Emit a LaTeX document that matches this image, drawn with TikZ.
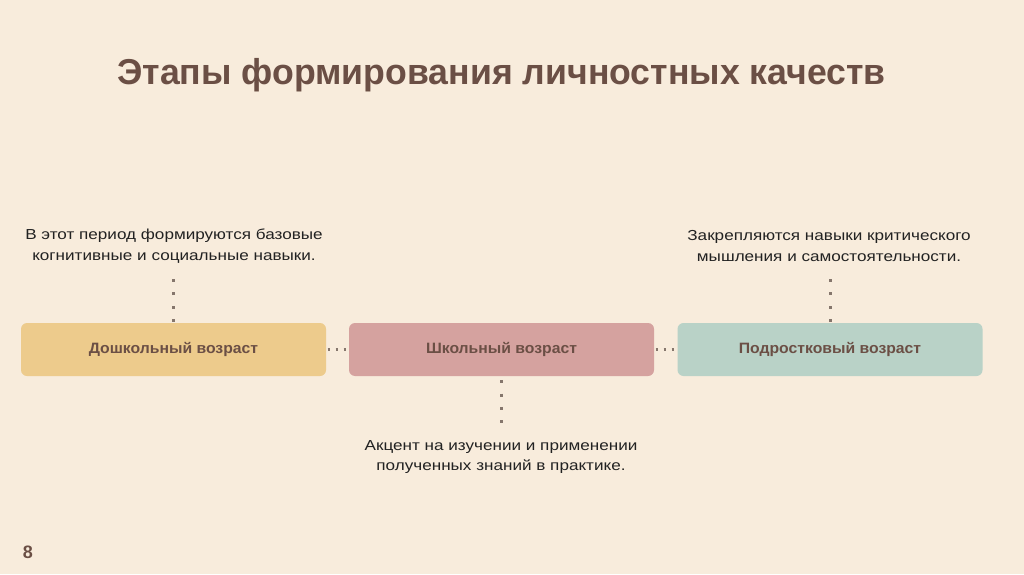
\documentclass[tikz,border=0pt]{standalone}
\usepackage{fontspec}
\setmainfont{Liberation Sans}
\newfontfamily\titlefont[FakeStretch=0.99]{Liberation Sans}
\newfontfamily\notefont[FakeStretch=1.18]{Liberation Sans}
\newfontfamily\boxfont[FakeStretch=1.05]{Liberation Sans}
\definecolor{bg}{HTML}{F8ECDC}
\definecolor{boxa}{HTML}{EDCB8C}
\definecolor{boxb}{HTML}{D5A29F}
\definecolor{boxc}{HTML}{B9D2C7}
\definecolor{brown}{HTML}{6B4F45}
\definecolor{dotc}{HTML}{85766C}
\definecolor{txt}{HTML}{222222}
\begin{document}
\begin{tikzpicture}[x=1pt,y=1pt,
  stagebox/.style={rounded corners=6pt, minimum width=305pt, minimum height=53pt, inner sep=0pt,
    font=\boxfont\fontsize{15}{18}\selectfont\bfseries, text=brown},
  note/.style={align=center, inner sep=0pt, text=txt, font=\notefont\fontsize{14.5}{20.5}\selectfont},
  dotv/.style={draw=dotc, line width=3pt, dash pattern=on 3pt off 10.3pt},
  doth/.style={draw=dotc, line width=2.4pt, dash pattern=on 2.4pt off 5.6pt}]
\fill[bg] (0,0) rectangle (1024,574);
\useasboundingbox (0,0) rectangle (1024,574);
\node[font=\titlefont\fontsize{36}{40}\selectfont\bfseries, text=brown, inner sep=0pt, anchor=base] (title) at (501.5,489) {Этапы формирования личностных качеств};
\node[stagebox, fill=boxa] (b1) at (173.5,224.5) {Дошкольный возраст};
\node[stagebox, fill=boxb] (b2) at (501.5,224.5) {Школьный возраст};
\node[stagebox, fill=boxc] (b3) at (830,224.5) {Подростковый возраст};
\node[note] (t1) at (174,328) {В этот период формируются базовые\\когнитивные и социальные навыки.};
\node[note] (t3) at (829,328) {Закрепляются навыки критического\\мышления и самостоятельности.};
\node[note] (t2) at (501,117) {Акцент на изучении и применении\\полученных знаний в практике.};
\node[font=\fontsize{18}{20}\selectfont\bfseries, text=brown, inner sep=0pt] (num) at (28,22) {8};
\coordinate (e1) at ([yshift=45pt]b1.north);
\coordinate (e3) at ([yshift=45pt]b3.north);
\coordinate (e2) at ([yshift=-48pt]b2.south);
\draw[dotv, shorten <=1pt] (b1.north) -- (e1);
\draw[dotv, shorten <=1pt] (b3.north) -- (e3);
\draw[dotv, shorten <=4pt] (b2.south) -- (e2);
\draw[doth, shorten <=1.5pt, shorten >=3pt] (b1.east) -- (b2.west);
\draw[doth, shorten <=1.5pt, shorten >=3pt] (b2.east) -- (b3.west);
\end{tikzpicture}
\end{document}
